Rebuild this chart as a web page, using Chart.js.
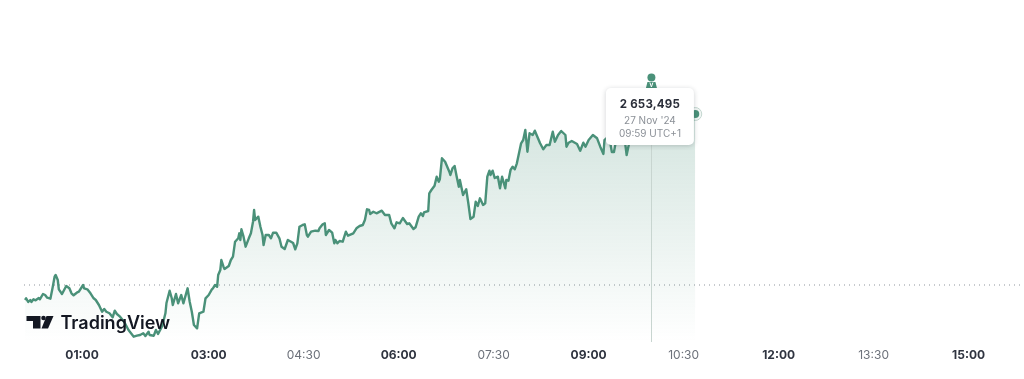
<!DOCTYPE html>
<html>
<head>
<meta charset="utf-8">
<title>TradingView line</title>
<script src="https://cdn.jsdelivr.net/npm/chart.js@4/dist/chart.umd.js"></script>
<style>
html,body{margin:0;padding:0;background:#fff;overflow:hidden}
canvas{display:block}
</style>
</head>
<body>
<canvas id="c" width="1024" height="379"></canvas>
<script>
// minutes after midnight
const minutes = [6,7,9,11,12,14,16,19,20,23,25,27,30,32,34,35,37,38,41,43,45,48,50,52,55,57,61,62,65,68,71,73,76,79,81,83,86,89,91,93,96,
  100,104,109,112,115,118,120,123,124,128,130,132,136,139,140,143,145,146,149,151,154,156,160,162,164,166,169,171,175,177,180,183,184,186,188,189,191,192,194,195,199,
  201,203,205,208,209,210,211,213,215,218,220,222,223,224,227,229,231,232,234,237,239,241,244,247,249,252,255,258,260,262,264,266,269,271,273,274,277,281,284,285,288,
  290,291,294,297,299,300,302,304,307,310,312,317,320,323,326,328,330,332,333,336,339,344,347,351,353,356,358,361,364,368,370,374,376,379,381,383,384,388,389,
  391,394,396,398,399,401,404,408,409,411,413,415,417,418,420,421,424,426,428,431,433,435,437,440,442,444,446,447,449,451,454,456,458,461,462,464,466,468,470,472,474,476,478,
  480,482,484,487,489,492,494,497,500,503,506,508,511,514,518,519,521,524,529,532,535,537,540,544,548,551,554,555,557,560,562,564,566,570,574,576,579,585,598,612,626,636,641];
const prices = [2634895,2635065,2634695,2634895,2634695,2634965,2634865,2635095,2634965,2635495,2635395,2635125,2635025,2636065,2637225,2637395,2636895,2635965,2635495,2635895,2636295,2636065,2635565,2635365,2635625,2635725,2636395,2636065,2635965,2635565,2635065,2634895,2634395,2633725,2633995,2633725,2633565,2633165,2633825,2633495,2633225,
  2632695,2631895,2631225,2631325,2631395,2631565,2631295,2631725,2631395,2631325,2631895,2631495,2632295,2633565,2634595,2635825,2635065,2634395,2635495,2634565,2635395,2634565,2636065,2634725,2633725,2632395,2632065,2633565,2633725,2635065,2635395,2635965,2636065,2636395,2636225,2637395,2637895,2638895,2638225,2637995,2638295,
  2638895,2639225,2640725,2641065,2641565,2640895,2641965,2641225,2640225,2641065,2641565,2642725,2643895,2642895,2643225,2642225,2641395,2640395,2641395,2641395,2641065,2641625,2641625,2641065,2640225,2639995,2640895,2640725,2640595,2639965,2640565,2642225,2642395,2642465,2641395,2641225,2641725,2641825,2641795,2642065,2642465,
  2642565,2641395,2641895,2641625,2640565,2640895,2640565,2640795,2640725,2641725,2641325,2641565,2642065,2642295,2642395,2642895,2643965,2643895,2643495,2643725,2643565,2643825,2643395,2643395,2642565,2642065,2642665,2642565,2643095,2642495,2642565,2641995,2642165,2643225,2643565,2643295,2643665,2643795,2645565,
  2645895,2646325,2647225,2646725,2646965,2649065,2648725,2647725,2647395,2648065,2648295,2647225,2646225,2646895,2645895,2645395,2645965,2644565,2642995,2643225,2644725,2644295,2645065,2644395,2644565,2647225,2647825,2647395,2647825,2647095,2647225,2646065,2647225,2646065,2646895,2646825,2647895,2648225,2647965,2648565,2649565,2650565,2650895,
  2651895,2649725,2651565,2651395,2651825,2651065,2650565,2649965,2650395,2650395,2651725,2650725,2651395,2651795,2651395,2650225,2650625,2650795,2650495,2649825,2650625,2650225,2650895,2651395,2651065,2650225,2649495,2650895,2651095,2650895,2649695,2649695,2650895,2651095,2651095,2649395,2650895,2651395,2651895,2652095,2652395,2653095,2653495];
const baseline = 2636395;
const hoverMinute = 599;
const tickMinutes = [60,180,270,360,450,540,630,720,810,900];
const tickLabels = ["01:00","03:00","04:30","06:00","07:30","09:00","10:30","12:00","13:30","15:00"];
const boldTicks = ["01:00","03:00","06:00","09:00","12:00","15:00"];
const tipLines = ["2 653,495","27 Nov '24","09:59 UTC+1"];
const logoText = "TradingView";

const GREEN = "#4a9179";
const FONT = "Inter, 'Noto Sans', sans-serif";
const X_MIN = 5, X_MAX = 952.5, Y_MIN = 2630695, Y_MAX = 2664895;

const lastI = prices.length - 1;

// crosshair, tooltip card, icon and watermark
const overlay = {
  id: "overlay",
  afterDatasetsDraw(chart) {
    const {ctx, scales:{x}, chartArea:a} = chart;
    const cx = x.getPixelForValue(hoverMinute);
    ctx.save();
    ctx.strokeStyle = "#c8d5d0";
    ctx.lineWidth = 1;
    ctx.beginPath();
    ctx.moveTo(Math.round(cx) + .5, 140);
    ctx.lineTo(Math.round(cx) + .5, a.bottom);
    ctx.stroke();

    // person icon
    ctx.fillStyle = GREEN;
    ctx.beginPath();
    ctx.arc(cx + .5, 77.5, 4, 0, Math.PI * 2);
    ctx.fill();
    ctx.beginPath();
    ctx.moveTo(cx - 3.5, 82); ctx.lineTo(cx + 4.5, 82); ctx.lineTo(cx + 6, 88); ctx.lineTo(cx - 5, 88);
    ctx.closePath();
    ctx.fill();
    ctx.strokeStyle = "#fff";
    ctx.beginPath();
    ctx.moveTo(cx - 1, 82.5); ctx.lineTo(cx + .5, 87); ctx.lineTo(cx + 2, 82.5);
    ctx.stroke();

    // card
    const bx = cx - 45, by = 88, bw = 88, bh = 57;
    ctx.save();
    ctx.shadowColor = "rgba(30,40,50,.22)";
    ctx.shadowBlur = 5;
    ctx.shadowOffsetY = 1;
    ctx.fillStyle = "#fff";
    ctx.beginPath();
    ctx.roundRect(bx, by, bw, bh, 5);
    ctx.fill();
    ctx.restore();
    ctx.textAlign = "center";
    ctx.textBaseline = "alphabetic";
    ctx.fillStyle = "#2a2e39";
    ctx.font = "700 11.5px " + FONT;
    ctx.letterSpacing = ".2px";
    ctx.fillText(tipLines[0], bx + bw / 2, by + 19.5);
    ctx.letterSpacing = "0px";
    ctx.fillStyle = "#8b9097";
    ctx.font = "400 10px " + FONT;
    ctx.fillText(tipLines[1], bx + bw / 2, by + 36);
    ctx.fillText(tipLines[2], bx + bw / 2, by + 49);

    // logo
    ctx.fillStyle = "#131722";
    ctx.beginPath();
    ctx.moveTo(26.5, 316); ctx.lineTo(40.5, 316); ctx.lineTo(40.5, 328.5); ctx.lineTo(33, 328.5);
    ctx.lineTo(33, 321); ctx.lineTo(26.5, 321);
    ctx.closePath();
    ctx.fill();
    ctx.beginPath();
    ctx.arc(43.5, 318, 2.3, 0, Math.PI * 2);
    ctx.fill();
    ctx.beginPath();
    ctx.moveTo(46.5, 316); ctx.lineTo(53.5, 316); ctx.lineTo(48, 328.5); ctx.lineTo(41.5, 328.5);
    ctx.closePath();
    ctx.fill();
    ctx.textAlign = "left";
    ctx.font = "600 18px " + FONT;
    ctx.fillText(logoText, 60.5, 328.5);
    ctx.restore();
  }
};

new Chart(document.getElementById("c"), {
  type: "line",
  plugins: [overlay],
  data: {
    datasets: [
      {
        label: "price",
        data: minutes.map((m, i) => ({x: m, y: prices[i]})),
        borderColor: GREEN,
        borderWidth: 2.4,
        borderJoinStyle: "round",
        pointRadius: 0,
        tension: 0,
        fill: "start",
        backgroundColor: c => {
          const a = c.chart.chartArea;
          if (!a) return "rgba(74,145,121,.2)";
          const g = c.chart.ctx.createLinearGradient(0, 115, 0, a.bottom);
          g.addColorStop(0, "rgba(74,145,121,.24)");
          g.addColorStop(1, "rgba(74,145,121,0)");
          return g;
        },
      },
      {
        label: "prev close",
        data: [{x: X_MIN, y: baseline}, {x: X_MAX, y: baseline}],
        borderColor: "#8f959c",
        borderWidth: 1,
        borderDash: [1, 4],
        pointRadius: 0,
        fill: false,
      },
      {
        label: "last",
        data: [{x: minutes[lastI], y: prices[lastI]}],
        showLine: false,
        pointRadius: [4],
        pointBackgroundColor: GREEN,
        pointBorderColor: "#fff",
        pointBorderWidth: 0,
      },
      {
        label: "last ring",
        data: [{x: minutes[lastI], y: prices[lastI]}],
        showLine: false,
        pointRadius: [6.5],
        pointBackgroundColor: "rgba(74,145,121,.08)",
        pointBorderColor: "#c3d6cf",
        pointBorderWidth: 1,
      },
    ],
  },
  options: {
    responsive: false,
    animation: false,
    // autoPadding would inset the plot by the size of the last-point ring
    layout: {autoPadding: false, padding: {left: 24, right: 0, top: 0, bottom: 0}},
    plugins: {legend: {display: false}, tooltip: {enabled: false}},
    scales: {
      x: {
        type: "linear",
        min: X_MIN,
        max: X_MAX,
        grid: {display: false, drawTicks: false},
        border: {display: false},
        afterBuildTicks: s => { s.ticks = tickMinutes.map(v => ({value: v})); },
        // no room reserved for the outer tick labels, the plot runs to the canvas edge
        afterFit: s => { s.height = 37; s.paddingLeft = 0; s.paddingRight = 0; },
        ticks: {
          autoSkip: false,
          maxRotation: 0,
          padding: 6,
          callback: (v, i) => tickLabels[i],
          color: c => boldTicks.includes(tickLabels[c.index]) ? "#2f3440" : "#6c717a",
          font: c => ({family: FONT, size: 12, weight: boldTicks.includes(tickLabels[c.index]) ? "700" : "400"}),
        },
      },
      y: {display: false, min: Y_MIN, max: Y_MAX},
    },
  },
});
</script>
</body>
</html>
